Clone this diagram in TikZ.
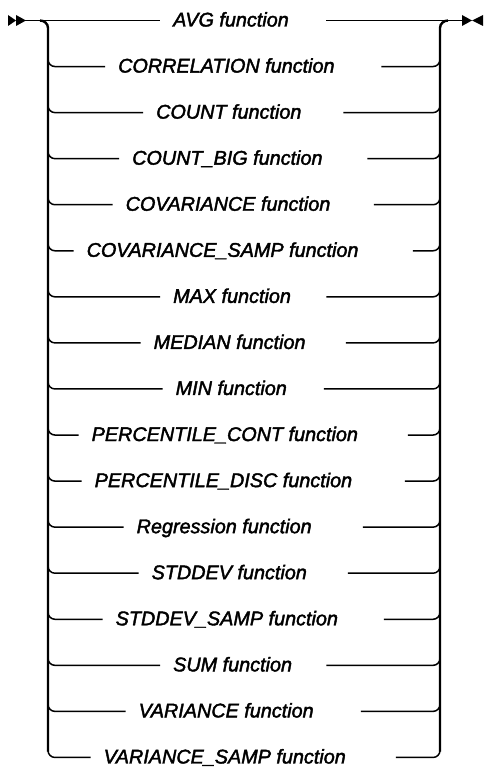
\documentclass[tikz,border=0pt]{standalone}
\usepackage{fontspec}
\newfontfamily\railfont{Liberation Sans}[UprightFont=* Italic, FakeBold=2]
\usepackage{tikz}
\usetikzlibrary{calc}

\tikzset{
  rail/.style={line width=1.5pt},
  spine/.style={line width=2.4pt},
  fn/.style={inner sep=0pt, anchor=west, text height=12pt, text depth=0pt,
    font=\railfont\fontsize{19.8}{22}\selectfont},
}

\begin{document}
\begin{tikzpicture}[x=1pt, y=-1pt]
    \useasboundingbox (0,0) rectangle (483,773);

    % entry and exit marks
    \fill (8,15) -- (16,20.5) -- (8,26) -- cycle;
    \fill (16,15) -- (26,20.5) -- (16,26) -- cycle;
    \fill (462,15) -- (472,20.5) -- (462,26) -- cycle;
    \fill (483,15) -- (472,20.5) -- (483,26) -- cycle;
    \coordinate (in) at (25,20.5);
    \coordinate (out) at (464,20.5);

    % spines of the choice
    \draw[spine] (40,20.5) to[out=0, in=90] (48,28) -- (48,751.5);
    \draw[spine] (440,751.5) -- (440,28) to[out=90, in=180] (448,20.5);

    % first choice sits on the main line
    \node[fn] (f0) at (160,20.5) {\makebox[166pt][l]{\hspace{13pt}AVG function}};
    \draw[rail] (in) -- (f0.west);
    \draw[rail] (f0.east) -- (out);

    % the other choices branch off
    \foreach \lbl/\hw [count=\i] in {CORRELATION function/138, COUNT function/100,
        COUNT\_BIG function/124, COVARIANCE function/130.5, COVARIANCE\_SAMP function/169.5,
        MAX function/83, MEDIAN function/102.5, MIN function/80.5,
        PERCENTILE\_CONT function/164.5, PERCENTILE\_DISC function/161.5,
        Regression function/119.5, STDDEV function/104.5, STDDEV\_SAMP function/140.5,
        SUM function/83, VARIANCE function/117.5, VARIANCE\_SAMP function/152.5} {
      \pgfmathsetmacro\yy{20.5+46.06*\i}
      \pgfmathsetmacro\boxw{2*\hw}
      \coordinate (l\i) at (48,\yy-7);
      \coordinate (r\i) at (440,\yy-7);
      \node[fn] (f\i) at (243-\hw,\yy) {\makebox[\boxw pt][l]{\hspace{13pt}\lbl}};
      \draw[rail] (l\i) to[out=-90, in=180] ($(l\i)+(7,7)$) -- (f\i.west);
      \draw[rail] (f\i.east) -- ($(r\i)+(-7,7)$) to[out=0, in=-90] (r\i);
    }
\end{tikzpicture}
\end{document}
